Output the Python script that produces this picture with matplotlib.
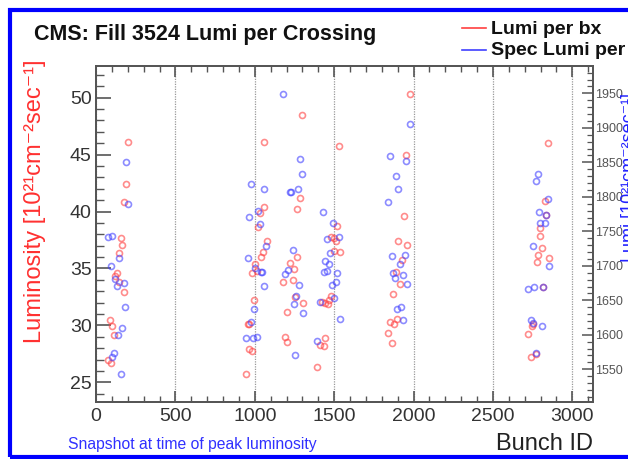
import numpy as np
import matplotlib
matplotlib.use("Agg")
import matplotlib.pyplot as plt
from matplotlib.patches import Rectangle
from matplotlib.lines import Line2D
from matplotlib.ticker import MultipleLocator

plt.rcParams['font.family'] = ['Liberation Sans', 'DejaVu Sans']

# lumi per bx (left axis, 10^21 cm^-2 s^-1)
red_bx = [199.6, 190.8, 174.4, 155.5, 161.8, 144.8, 134.1, 121.5, 142.9, 178.2, 90.0, 102.6, 113.3, 73.7, 96.3,
          1059.8, 1056.0, 1032.7, 1020.1, 1074.9, 1051.6, 1039.0, 1003.1, 982.3, 1013.8, 1179.4, 996.8, 961.5,
          955.2, 980.4, 966.6, 944.6, 1202.7, 1192.0, 1204.7,
          1297.2, 1530.2, 1282.7, 1267.6, 1517.6, 1477.9, 1496.8, 1511.3, 1498.7, 1534.5, 1263.8, 1223.5,
          1246.8, 1240.5, 1253.1, 1305.4, 1481.7, 1469.1, 1425.0, 1459.0, 1440.0, 1442.0, 1412.4, 1435.7, 1393.5,
          1977.3, 1954.0, 1939.5, 1901.7, 1960.3, 1926.8, 1889.0, 1912.4, 1872.1, 1895.4, 1853.2, 1878.4,
          1836.8, 1862.0,
          2846.3, 2827.4, 2835.6, 2794.0, 2797.8, 2810.4, 2781.4, 2852.6, 2775.0, 2814.9, 2753.8, 2747.5,
          2722.3, 2770.8, 2739.3]
red_lumi = [46.13, 42.45, 40.84, 37.68, 37.06, 36.38, 34.60, 34.36, 33.84, 32.96, 30.47, 29.92, 29.18, 26.96, 26.67,
            46.13, 40.37, 39.85, 38.62, 37.44, 36.42, 36.03, 35.37, 34.58, 34.78, 33.81, 32.23, 30.09,
            30.15, 27.78, 27.90, 25.73, 31.18, 29.00, 28.57,
            48.51, 45.78, 41.16, 40.20, 38.73, 37.79, 37.70, 37.44, 36.53, 36.42, 35.98, 35.48,
            34.93, 33.96, 32.49, 31.99, 32.58, 32.20, 32.03, 31.85, 31.94, 28.86, 28.28, 28.16, 26.37,
            50.33, 44.97, 39.61, 37.39, 37.06, 35.72, 34.66, 33.63, 32.73, 30.59, 30.27, 30.15,
            29.33, 28.43,
            46.05, 40.95, 39.70, 38.53, 37.85, 36.77, 36.16, 35.89, 35.57, 33.40, 30.09, 29.95,
            29.27, 27.49, 27.25]

# specific lumi per bx (right axis)
blue_bx = [188.9, 201.5, 75.6, 98.9, 142.9, 92.6, 119.6, 130.3, 176.3, 180.7, 163.7, 138.5, 115.2, 102.6, 155.5,
           1179.4, 977.9, 1059.8, 1219.7, 1018.2, 963.4, 1034.6, 1072.4, 957.2, 999.3, 1039.0, 1048.5, 1056.0,
           996.8, 974.1, 942.7, 986.7, 1013.8, 1192.0, 1207.1,
           1286.5, 1297.2, 1270.1, 1226.0, 1427.6, 1492.4, 1452.8, 1530.2, 1473.5, 1238.7, 1440.1, 1469.1,
           1433.9, 1454.7, 1515.7, 1278.3, 1511.3, 1488.0, 1259.4, 1500.6, 1246.8, 1305.4, 1412.4, 1536.5,
           1393.5, 1253.1,
           1977.3, 1853.2, 1954.0, 1889.0, 1901.7, 1836.8, 1943.9, 1862.0, 1914.3, 1872.1, 1935.0, 1880.9,
           1960.3, 1918.7, 1897.4, 1931.3,
           2781.4, 2772.6, 2848.2, 2789.6, 2833.7, 2795.9, 2827.4, 2749.9, 2852.6, 2814.9, 2722.3, 2758.1,
           2739.3, 2753.8, 2810.4, 2770.8]
blue_spec = [1850.9, 1789.6, 1742.2, 1743.6, 1711.3, 1700.1, 1680.4, 1671.2, 1674.6, 1639.9, 1609.4, 1599.3,
             1573.2, 1567.4, 1543.2,
             1949.0, 1818.5, 1811.7, 1806.5, 1779.4, 1771.2, 1760.6, 1729.1, 1711.3, 1697.2, 1691.4, 1691.0,
             1670.7, 1637.8, 1618.1, 1594.9, 1594.9, 1597.2, 1687.7, 1693.9,
             1855.2, 1833.5, 1810.9, 1806.5, 1778.0, 1761.6, 1738.4, 1741.3, 1718.1, 1722.5, 1707.4, 1703.0,
             1691.0, 1692.5, 1690.0, 1672.2, 1676.0, 1672.2, 1656.2, 1652.9, 1644.6, 1631.2, 1647.1, 1623.3,
             1591.4, 1571.1,
             1905.5, 1859.1, 1852.3, 1830.6, 1811.7, 1792.9, 1715.7, 1713.8, 1703.0, 1690.0, 1686.2, 1681.9,
             1673.6, 1640.7, 1637.0, 1621.0,
             1833.5, 1822.5, 1796.8, 1778.0, 1774.0, 1761.6, 1761.6, 1728.7, 1700.1, 1669.7, 1665.9, 1669.3,
             1621.4, 1616.7, 1612.3, 1573.2]

W, H = 628, 459
fig = plt.figure(figsize=(W / 100, H / 100), dpi=100)
fig.patch.set_facecolor('white')

ax = fig.add_axes([96 / W, 1 - 402 / H, (593 - 96) / W, (402 - 66) / H])
ax2 = ax.twinx()

red = (1.0, 0.25, 0.25, 0.6)
blue = (0.25, 0.25, 1.0, 0.6)
ax.plot(red_bx, red_lumi, linestyle='', marker='o', ms=4.3, mfc='none', mec=red, mew=1.2, zorder=3)
ax2.plot(blue_bx, blue_spec, linestyle='', marker='o', ms=4.3, mfc='none', mec=blue, mew=1.2, zorder=3)

ax.set_xlim(0, 3130)
ax.set_ylim(23.27, 52.78)
ax2.set_ylim(1502.6, 1989.6)

ax.xaxis.set_major_locator(MultipleLocator(500))
ax.xaxis.set_minor_locator(MultipleLocator(100))
ax.yaxis.set_major_locator(MultipleLocator(5))
ax.yaxis.set_minor_locator(MultipleLocator(1))
ax2.yaxis.set_major_locator(MultipleLocator(50))
ax2.yaxis.set_minor_locator(MultipleLocator(10))

ax.xaxis.grid(True, which='major', linestyle=(0, (1, 1)), color='#999999', lw=0.9)

spine_c = '#555555'
for a in (ax, ax2):
    for s in a.spines.values():
        s.set_color(spine_c)
        s.set_linewidth(1.3)

ax.tick_params(axis='y', which='major', direction='in', length=10.8, width=1.2, color=spine_c,
               labelsize=14, labelcolor='#333333', pad=3, right=False)
ax.tick_params(axis='y', which='minor', direction='in', length=5.5, width=1.0, color=spine_c, right=False)
ax.tick_params(axis='x', which='major', direction='in', length=8, width=1.2, color=spine_c,
               labelsize=14, labelcolor='#333333', pad=4, top=True)
ax.tick_params(axis='x', which='minor', direction='in', length=4.5, width=1.0, color=spine_c, top=True)
ax2.tick_params(axis='y', which='major', direction='in', length=8, width=1.1, color=spine_c,
                labelsize=9, labelcolor='#555555', pad=1.5)
ax2.tick_params(axis='y', which='minor', direction='in', length=4, width=0.9, color=spine_c)

ax.set_ylabel('Luminosity [10²¹cm⁻²sec⁻¹]', color='#ff3030', fontsize=17)
ax.yaxis.set_label_coords(-0.1, 0.597)

fig.text(621 / W, 1 - 262 / H, 'Lumi [10²¹cm⁻²sec⁻¹]', color='#2020ff', fontsize=13,
         rotation=90, ha='left', va='bottom')

fig.text(34 / W, 1 - 40 / H, 'CMS: Fill 3524 Lumi per Crossing', fontsize=15.5, weight='bold',
         color='#111111', va='baseline', ha='left')

fig.add_artist(Line2D([462 / W, 486 / W], [1 - 28 / H, 1 - 28 / H], color='#ff4040', lw=1.2))
fig.add_artist(Line2D([462 / W, 486 / W], [1 - 50 / H, 1 - 50 / H], color='#4040ff', lw=1.2))
fig.text(491 / W, 1 - 34 / H, 'Lumi per bx', fontsize=14, weight='bold', color='#111111', va='baseline')
fig.text(491 / W, 1 - 55 / H, 'Spec Lumi per bx', fontsize=14, weight='bold', color='#111111', va='baseline')

fig.text(68 / W, 1 - 445 / H, 'Snapshot at time of peak luminosity', fontsize=11.3, color='#3030ff',
         va='center', ha='left')
fig.text(593 / W, 1 - 444 / H, 'Bunch ID', fontsize=17, color='#222222', va='center', ha='right')

fig.add_artist(Rectangle((9.5 / W, 2.5 / H), 700 / W, (456.5 - 10) / H, transform=fig.transFigure,
                         fill=False, edgecolor='#0000ff', lw=3, clip_on=False))

fig.savefig('out.png', dpi=100)
